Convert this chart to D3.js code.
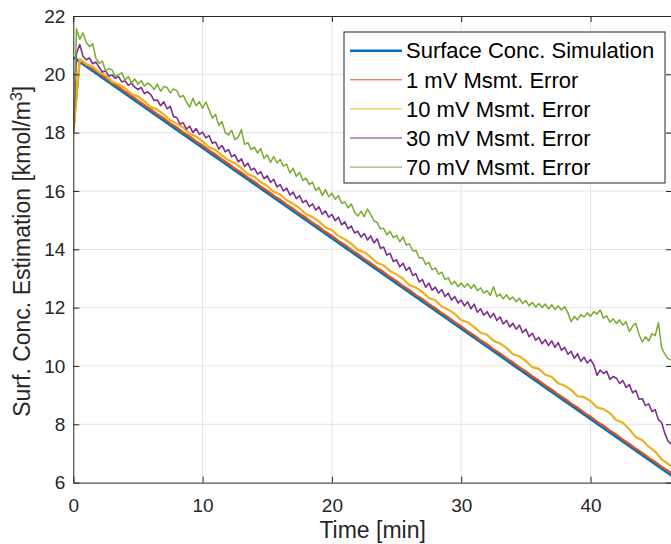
<!DOCTYPE html>
<html>
<head>
<meta charset="utf-8">
<script src="https://cdn.jsdelivr.net/npm/d3@7"></script>
<style>
  body { margin: 0; background: #fff; }
  svg { display: block; font-family: "Liberation Sans", Arial, Helvetica, sans-serif; }
</style>
</head>
<body>
<div id="chart"></div>
<script>
// surface concentration estimates vs simulation

const xTicks = [0, 10, 20, 30, 40];
const yTicks = [6, 8, 10, 12, 14, 16, 18, 20, 22];
const seriesNames = ["Surface Conc. Simulation", "1 mV Msmt. Error", "10 mV Msmt. Error", "30 mV Msmt. Error", "70 mV Msmt. Error"];
const seriesColors = ["#0072BD", "#D95319", "#EDB120", "#7E2F8E", "#77AC30"];

// simulation (straight line), min / kmol/m^3
const simTime = [0, 46.5];
const simConc = [20.58, 6.165];

// 1 mV and 10 mV estimates, sampled every 0.5 min
const err1mV = [18.0, 20.5, 20.34, 20.18, 20.04, 19.87, 19.72, 19.57, 19.41, 19.26,
  19.1, 18.94, 18.8, 18.63, 18.49, 18.32, 18.18, 18.01, 17.87, 17.7,
  17.56, 17.39, 17.25, 17.08, 16.94, 16.77, 16.63, 16.46, 16.32, 16.15,
  16.01, 15.84, 15.7, 15.53, 15.39, 15.22, 15.08, 14.91, 14.77, 14.6,
  14.46, 14.29, 14.15, 13.98, 13.84, 13.67, 13.53, 13.36, 13.22, 13.05,
  12.91, 12.74, 12.6, 12.43, 12.29, 12.12, 11.98, 11.81, 11.67, 11.5,
  11.36, 11.19, 11.05, 10.88, 10.74, 10.57, 10.43, 10.26, 10.12, 9.95,
  9.81, 9.64, 9.5, 9.33, 9.19, 9.02, 8.88, 8.71, 8.57, 8.4,
  8.26, 8.09, 7.95, 7.78, 7.64, 7.47, 7.33, 7.16, 7.02, 6.85,
  6.71, 6.54, 6.4, 6.23];
const err10mV = [18.0, 20.53, 20.35, 20.26, 20.07, 19.96, 19.75, 19.66, 19.53, 19.33,
  19.24, 19.07, 18.88, 18.79, 18.63, 18.43, 18.31, 18.18, 17.96, 17.87,
  17.7, 17.5, 17.41, 17.22, 17.05, 16.95, 16.78, 16.58, 16.49, 16.3,
  16.17, 15.97, 15.88, 15.68, 15.56, 15.41, 15.2, 15.11, 14.95, 14.75,
  14.66, 14.46, 14.34, 14.19, 13.98, 13.9, 13.73, 13.53, 13.45, 13.25,
  13.14, 12.99, 12.77, 12.69, 12.53, 12.33, 12.25, 12.04, 11.93, 11.79,
  11.57, 11.5, 11.33, 11.14, 11.07, 10.86, 10.77, 10.62, 10.4, 10.33,
  10.17, 9.96, 9.9, 9.7, 9.62, 9.41, 9.32, 9.18, 8.96, 8.93,
  8.8, 8.58, 8.52, 8.38, 8.14, 8.05, 7.83, 7.56, 7.45, 7.23,
  7.06, 6.8, 6.64, 6.45];

// 30 mV and 70 mV estimates, sampled every 0.25 min
const err30mV = [18.0, 20.72, 21.02, 20.62, 20.5, 20.56, 20.36, 20.42,
  20.24, 20.08, 20.12, 19.94, 19.98, 19.86, 19.92, 19.74,
  19.78, 19.62, 19.7, 19.56, 19.48, 19.55, 19.34, 19.4,
  19.3, 19.1, 19.12, 18.92, 19.06, 18.82, 18.9, 18.55,
  18.52, 18.3, 18.34, 18.12, 18.22, 18.0, 18.14, 17.94,
  18.02, 17.82, 17.9, 17.64, 17.68, 17.44, 17.56, 17.34,
  17.42, 17.18, 17.24, 17.0, 17.1, 16.84, 16.96, 16.72,
  16.78, 16.58, 16.66, 16.42, 16.52, 16.3, 16.4, 16.14,
  16.22, 16.0, 16.1, 15.86, 15.96, 15.74, 15.84, 15.6,
  15.68, 15.46, 15.56, 15.34, 15.46, 15.2, 15.32, 15.1,
  15.2, 14.98, 15.1, 14.84, 14.94, 14.7, 14.8, 14.56,
  14.62, 14.42, 14.54, 14.32, 14.46, 14.22, 14.36, 14.04,
  14.08, 13.8, 13.86, 13.58, 13.64, 13.4, 13.52, 13.28,
  13.38, 13.1, 13.16, 12.88, 12.96, 12.7, 12.84, 12.6,
  12.7, 12.5, 12.62, 12.38, 12.5, 12.26, 12.38, 12.16,
  12.26, 12.06, 12.2, 11.96, 12.12, 11.84, 11.96, 11.74,
  11.86, 11.66, 11.8, 11.56, 11.68, 11.44, 11.56, 11.34,
  11.46, 11.26, 11.4, 11.14, 11.26, 11.0, 11.12, 10.88,
  10.98, 10.76, 10.9, 10.7, 10.86, 10.64, 10.8, 10.54,
  10.64, 10.4, 10.5, 10.26, 10.42, 10.16, 10.3, 10.1,
  10.22, 10.04, 9.68, 9.86, 9.74, 9.82, 9.54, 9.64,
  9.58, 9.4, 9.5, 9.26, 9.36, 9.08, 9.16, 8.86,
  8.88, 8.64, 8.7, 8.44, 8.5, 8.16, 8.06, 7.68,
  7.42, 7.32, 7.28];
const err70mV = [18.0, 21.55, 21.2, 21.42, 21.1, 20.95, 21.05, 20.55,
  20.38, 20.45, 20.12, 20.2, 20.15, 19.92, 19.98, 20.05,
  19.8, 19.92, 19.7, 19.84, 19.66, 19.78, 19.6, 19.7,
  19.62, 19.48, 19.66, 19.42, 19.58, 19.55, 19.36, 19.5,
  19.44, 19.22, 19.28, 19.05, 18.88, 19.18, 18.92, 19.06,
  18.84, 19.05, 18.78, 18.5, 18.62, 18.25, 18.38, 18.0,
  17.92, 18.08, 17.76, 17.84, 18.1, 17.6, 17.66, 17.42,
  17.5, 17.3, 17.45, 17.12, 17.24, 16.98, 17.18, 16.96,
  17.08, 16.85, 16.92, 16.62, 16.78, 16.5, 16.64, 16.36,
  16.44, 16.22, 16.3, 16.02, 16.12, 15.85, 16.05, 15.8,
  15.92, 15.72, 15.84, 15.58, 15.62, 15.42, 15.55, 15.28,
  15.14, 15.3, 15.12, 15.38, 15.2, 14.98, 14.92, 14.7,
  14.72, 14.5, 14.62, 14.4, 14.48, 14.26, 14.42, 14.15,
  14.18, 13.94, 13.96, 13.7, 13.72, 13.48, 13.55, 13.3,
  13.36, 13.15, 13.22, 12.96, 13.02, 12.8, 12.9, 12.72,
  12.84, 12.7, 12.82, 12.66, 12.78, 12.58, 12.68, 12.5,
  12.58, 12.42, 12.72, 12.38, 12.46, 12.3, 12.44, 12.28,
  12.36, 12.2, 12.32, 12.14, 12.24, 12.06, 12.18, 12.02,
  12.14, 12.0, 12.12, 11.96, 12.1, 11.94, 12.06, 11.92,
  12.04, 11.82, 11.52, 11.7, 11.58, 11.76, 11.68, 11.82,
  11.7, 11.86, 11.78, 11.92, 11.64, 11.72, 11.5, 11.62,
  11.46, 11.58, 11.4, 11.52, 11.18, 11.36, 11.46, 11.08,
  10.82, 11.0, 10.86, 11.1, 11.04, 11.48, 10.62, 10.4,
  10.25, 10.2, 10.22];

function drawChart(targetSelector) {
  const svgWidth = 671, svgHeight = 544;
  const plot = { left: 73.3, right: 672, top: 16, bottom: 482.6 };
  const x = d3.scaleLinear().domain([0, 46.3]).range([plot.left, plot.right]);
  const y = d3.scaleLinear().domain([6, 22]).range([plot.bottom, plot.top]);
  const axisColor = "#262626";

  const svg = d3.select(targetSelector).append("svg").attr("width", svgWidth).attr("height", svgHeight);
  svg.append("defs").append("clipPath").attr("id", "plotClip").append("rect")
    .attr("x", plot.left).attr("y", plot.top).attr("width", plot.right - plot.left).attr("height", plot.bottom - plot.top);

  // grid
  const grid = svg.append("g").attr("stroke", "#e3e3e3").attr("stroke-width", 1);
  grid.selectAll(".gx").data(xTicks.slice(1)).enter().append("line")
    .attr("x1", d => x(d)).attr("x2", d => x(d)).attr("y1", plot.top).attr("y2", plot.bottom);
  grid.selectAll(".gy").data(yTicks.slice(1, -1)).enter().append("line")
    .attr("x1", plot.left).attr("x2", plot.right).attr("y1", d => y(d)).attr("y2", d => y(d));

  // lines
  const series = [
    simTime.map((t, i) => [t, simConc[i]]),
    err1mV.map((v, i) => [i * 0.5, v]),
    err10mV.map((v, i) => [i * 0.5, v]),
    err30mV.map((v, i) => [i * 0.25, v]),
    err70mV.map((v, i) => [i * 0.25, v])
  ];
  const widths = [2.6, 2.2, 2.2, 1.6, 1.5];
  const line = d3.line().x(d => x(d[0])).y(d => y(d[1]));
  svg.append("g").attr("clip-path", "url(#plotClip)").selectAll("path").data(series).enter().append("path")
    .attr("d", line).attr("fill", "none").attr("stroke", (d, i) => seriesColors[i])
    .attr("stroke-width", (d, i) => widths[i]).attr("stroke-linejoin", "round");

  // axes, ticks inward
  const styleAxis = g => {
    g.select(".domain").attr("stroke", axisColor).attr("stroke-width", 1);
    g.selectAll(".tick line").attr("stroke", axisColor);
    g.selectAll(".tick text").attr("fill", axisColor).style("font-size", "19px");
  };
  svg.append("g").attr("transform", `translate(0,${plot.bottom})`)
    .call(d3.axisBottom(x).tickValues(xTicks).tickSizeInner(-6).tickSizeOuter(0).tickPadding(16)).call(styleAxis);
  svg.append("g").attr("transform", `translate(0,${plot.top})`)
    .call(d3.axisTop(x).tickValues(xTicks).tickSizeInner(-6).tickSizeOuter(0).tickFormat("")).call(styleAxis);
  svg.append("g").attr("transform", `translate(${plot.left},0)`)
    .call(d3.axisLeft(y).tickValues(yTicks).tickSizeInner(-6).tickSizeOuter(0).tickPadding(8)).call(styleAxis);
  svg.append("g").attr("transform", `translate(${plot.right},0)`)
    .call(d3.axisRight(y).tickValues(yTicks).tickSizeInner(-6).tickSizeOuter(0).tickFormat("")).call(styleAxis);

  // axis labels
  svg.append("text").attr("x", (plot.left + plot.right) / 2).attr("y", 538).attr("text-anchor", "middle")
    .attr("fill", axisColor).style("font-size", "23px").text("Time [min]");
  const yl = svg.append("text").attr("text-anchor", "middle").attr("fill", axisColor).style("font-size", "23px")
    .attr("transform", `translate(30,${(plot.top + plot.bottom) / 2 + 2}) rotate(-90)`);
  yl.append("tspan").text("Surf. Conc. Estimation [kmol/m");
  yl.append("tspan").attr("dy", "-0.5em").style("font-size", "16px").text("3");
  yl.append("tspan").attr("dy", "0.35em").text("]");

  // legend
  const lg = svg.append("g");
  lg.append("rect").attr("x", 344).attr("y", 32).attr("width", 321).attr("height", 151)
    .attr("fill", "#fff").attr("stroke", axisColor).attr("stroke-width", 1);
  const items = lg.selectAll(".item").data(seriesNames).enter().append("g")
    .attr("transform", (d, i) => `translate(0,${50.7 + i * 29.1})`);
  items.append("line").attr("x1", 350).attr("x2", 402).attr("y1", 0).attr("y2", 0)
    .attr("stroke", (d, i) => seriesColors[i]).attr("stroke-width", (d, i) => i === 0 ? 2.6 : 1);
  items.append("text").attr("x", 406).attr("dy", "0.35em").attr("fill", "#000").style("font-size", "22px").text(d => d);
}

drawChart("#chart");
</script>
</body>
</html>
